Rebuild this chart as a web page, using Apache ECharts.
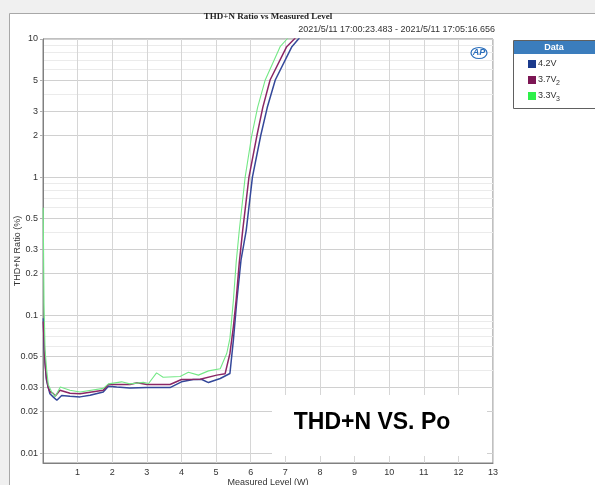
<!DOCTYPE html>
<html>
<head>
<meta charset="utf-8">
<script src="https://cdn.jsdelivr.net/npm/echarts@6/dist/echarts.min.js"></script>
<style>
html,body{margin:0;padding:0;background:#f0f0f0;}
#c{width:595px;height:485px;}
</style>
</head>
<body>
<div id="c"></div>
<script>
// ---------- data ----------
const seriesNames = ['4.2V', '3.7V', '3.3V'];
const seriesSubs = ['', '2', '3'];
const lineColors = ['#34489a', '#8b2766', '#74e886'];
const legendColors = ['#1b3a8c', '#7c1654', '#2ef04a'];

const blueX = [0.01,0.03,0.06,0.10,0.15,0.20,0.30,0.40,0.54,0.78,1.07,1.36,1.74,1.89,2.13,2.51,3.00,3.67,4.00,4.34,4.59,4.78,5.12,5.40,5.50,5.60,5.72,5.87,6.05,6.29,6.48,6.71,7.19,7.38,7.60];
const blueY = [0.095,0.060,0.045,0.034,0.030,0.027,0.0255,0.0242,0.0262,0.0259,0.0256,0.0263,0.0278,0.0306,0.0302,0.0297,0.0299,0.0299,0.0329,0.0342,0.0342,0.0325,0.0348,0.0378,0.066,0.128,0.25,0.41,1.0,2.0,3.2,5.05,8.8,10,12];

const purpleX = [0.01,0.03,0.06,0.10,0.15,0.20,0.30,0.35,0.49,0.78,1.07,1.74,1.89,2.51,2.72,3.00,3.67,4.00,4.54,5.02,5.26,5.40,5.50,5.58,5.67,5.77,5.95,6.18,6.35,6.56,7.04,7.26,7.50];
const purpleY = [0.090,0.065,0.045,0.035,0.030,0.028,0.027,0.0259,0.0286,0.0272,0.0270,0.0286,0.0315,0.0315,0.0324,0.0315,0.0315,0.0342,0.0344,0.0368,0.0376,0.0528,0.0823,0.1285,0.24,0.413,1.0,2.0,3.2,5.05,8.8,10,12];

const greenX = [0.005,0.03,0.06,0.107,0.153,0.25,0.35,0.50,0.78,1.07,1.74,1.89,2.27,2.51,2.90,3.05,3.28,3.47,3.96,4.20,4.49,4.78,5.12,5.31,5.40,5.50,5.58,5.67,5.84,6.03,6.20,6.42,6.85,7.05,7.30];
const greenY = [0.60,0.12,0.0557,0.040,0.0314,0.0278,0.0257,0.0302,0.0286,0.0278,0.0295,0.0318,0.0329,0.0318,0.0326,0.0320,0.0382,0.0355,0.0360,0.0386,0.0368,0.0395,0.0409,0.053,0.068,0.128,0.24,0.41,1.0,2.0,3.2,5.05,8.8,10,12];

const yMajorTicks = [0.01,0.02,0.03,0.05,0.1,0.2,0.3,0.5,1,2,3,5,10];
const yMinorTicks = [0.04,0.06,0.07,0.08,0.09,0.4,0.6,0.7,0.8,0.9,4,6,7,8,9];
const yMin = 0.0085, yMax = 10;
const xMin = 0, xMax = 13;

const titleText = 'THD+N Ratio vs Measured Level';
const subText = '2021/5/11 17:00:23.483 - 2021/5/11 17:05:16.656';
const xName = 'Measured Level (W)';
const yName = 'THD+N Ratio (%)';
const noteText = 'THD+N VS. Po';

// ---------- build ----------
const lg = v => Math.log10(v);
const pairs = (xs, ys) => xs.map((x, i) => [x, lg(ys[i])]);
const allX = [blueX, purpleX, greenX];
const allY = [blueY, purpleY, greenY];

const fmtY = v => String(parseFloat(Math.pow(10, v).toPrecision(2)));

const chart = echarts.init(document.getElementById('c'), null, {renderer: 'canvas'});

const series = seriesNames.map((n, i) => ({
  name: n,
  type: 'line',
  data: pairs(allX[i], allY[i]),
  showSymbol: false,
  symbol: 'none',
  clip: true,
  lineStyle: {color: lineColors[i], width: i === 2 ? 1.1 : 1.5},
  itemStyle: {color: lineColors[i]},
  z: 3 + i
}));

const legendGraphics = [];
legendGraphics.push({type: 'rect', shape: {x: 513.5, y: 40.5, width: 90, height: 68}, style: {fill: '#fff', stroke: '#606060', lineWidth: 1}, z: 5});
legendGraphics.push({type: 'rect', shape: {x: 514, y: 41, width: 89, height: 13}, style: {fill: '#3b7dbd'}, z: 6});
legendGraphics.push({type: 'text', x: 554, y: 47.5, style: {text: 'Data', fill: '#fff', font: 'bold 9px "Liberation Sans"', align: 'center', verticalAlign: 'middle'}, z: 7});
seriesNames.forEach((n, i) => {
  const cy = 64 + i * 16;
  legendGraphics.push({type: 'rect', shape: {x: 528, y: cy - 4, width: 8, height: 8}, style: {fill: legendColors[i]}, z: 7});
  legendGraphics.push({type: 'text', x: 538, y: cy, style: {text: n, fill: '#333', font: '9px "Liberation Sans"', align: 'left', verticalAlign: 'middle'}, z: 7});
  if (seriesSubs[i]) {
    legendGraphics.push({type: 'text', x: 556, y: cy + 3, style: {text: seriesSubs[i], fill: '#333', font: '7px "Liberation Sans"', align: 'left', verticalAlign: 'middle'}, z: 7});
  }
});

const option = {
  backgroundColor: '#f0f0f0',
  animation: false,
  grid: {left: 43, top: 39, right: 102, bottom: 22, show: true, borderColor: '#808080', borderWidth: 1, backgroundColor: 'transparent', outerBoundsMode: 'none'},
  xAxis: {
    type: 'value', min: xMin, max: xMax, interval: 1,
    name: xName, nameLocation: 'middle', nameGap: 15, nameMoveOverlap: false,
    nameTextStyle: {fontSize: 9, color: '#333', fontFamily: 'Liberation Sans'},
    axisLine: {show: true, onZero: false, lineStyle: {color: '#808080'}},
    axisTick: {show: false},
    axisLabel: {fontSize: 9, color: '#333', fontFamily: 'Liberation Sans', margin: 5, showMinLabel: false,
      formatter: v => v === 0 ? '' : String(v)},
    splitLine: {show: true, lineStyle: {color: '#d6d6d6', width: 1}}
  },
  yAxis: [{
    type: 'value', min: lg(yMin), max: lg(yMax),
    name: yName, nameLocation: 'middle', nameGap: 21, nameRotate: 90, nameMoveOverlap: false,
    nameTextStyle: {fontSize: 9, color: '#333', fontFamily: 'Liberation Sans'},
    axisLine: {show: true, onZero: false, lineStyle: {color: '#808080'}},
    axisTick: {show: true, length: 3, lineStyle: {color: '#b0b0b0'}, customValues: yMajorTicks.map(lg)},
    axisLabel: {fontSize: 9, color: '#333', fontFamily: 'Liberation Sans', margin: 5, customValues: yMajorTicks.map(lg), formatter: fmtY},
    splitLine: {show: true, lineStyle: {color: '#d0d0d0', width: 1}}
  }, {
    type: 'value', min: lg(yMin), max: lg(yMax), position: 'left',
    axisLine: {show: false, onZero: false}, axisLabel: {show: false},
    axisTick: {show: false, customValues: yMinorTicks.map(lg)},
    splitLine: {show: true, lineStyle: {color: '#ebebeb', width: 1}}
  }],
  series: series,
  graphic: [
    {type: 'rect', shape: {x: 9.5, y: 13.5, width: 600, height: 500}, style: {fill: '#ffffff', stroke: '#a8a8a8', lineWidth: 1}, z: -100, silent: true},
    {type: 'text', x: 268, y: 17, style: {text: titleText, fill: '#222', font: 'bold 9px "Liberation Serif"', align: 'center', verticalAlign: 'middle'}, z: 5},
    {type: 'text', x: 495, y: 30, style: {text: subText, fill: '#333', font: '9px "Liberation Sans"', align: 'right', verticalAlign: 'middle'}, z: 5},
    {type: 'ellipse', shape: {cx: 479, cy: 53, rx: 8, ry: 5.5}, style: {fill: 'none', stroke: '#2a6ebb', lineWidth: 1.2}, z: 5},
    {type: 'text', x: 479, y: 53, style: {text: 'AP', fill: '#2a6ebb', font: 'italic bold 9px "Liberation Sans"', align: 'center', verticalAlign: 'middle'}, z: 6},
    {type: 'rect', shape: {x: 272, y: 395, width: 215, height: 61}, style: {fill: '#ffffff'}, z: 10},
    {type: 'text', x: 372, y: 423, style: {text: noteText, fill: '#000', font: 'bold 23px "Liberation Sans"', align: 'center', verticalAlign: 'middle'}, z: 11}
  ].concat(legendGraphics)
};
chart.setOption(option);
</script>
</body>
</html>
